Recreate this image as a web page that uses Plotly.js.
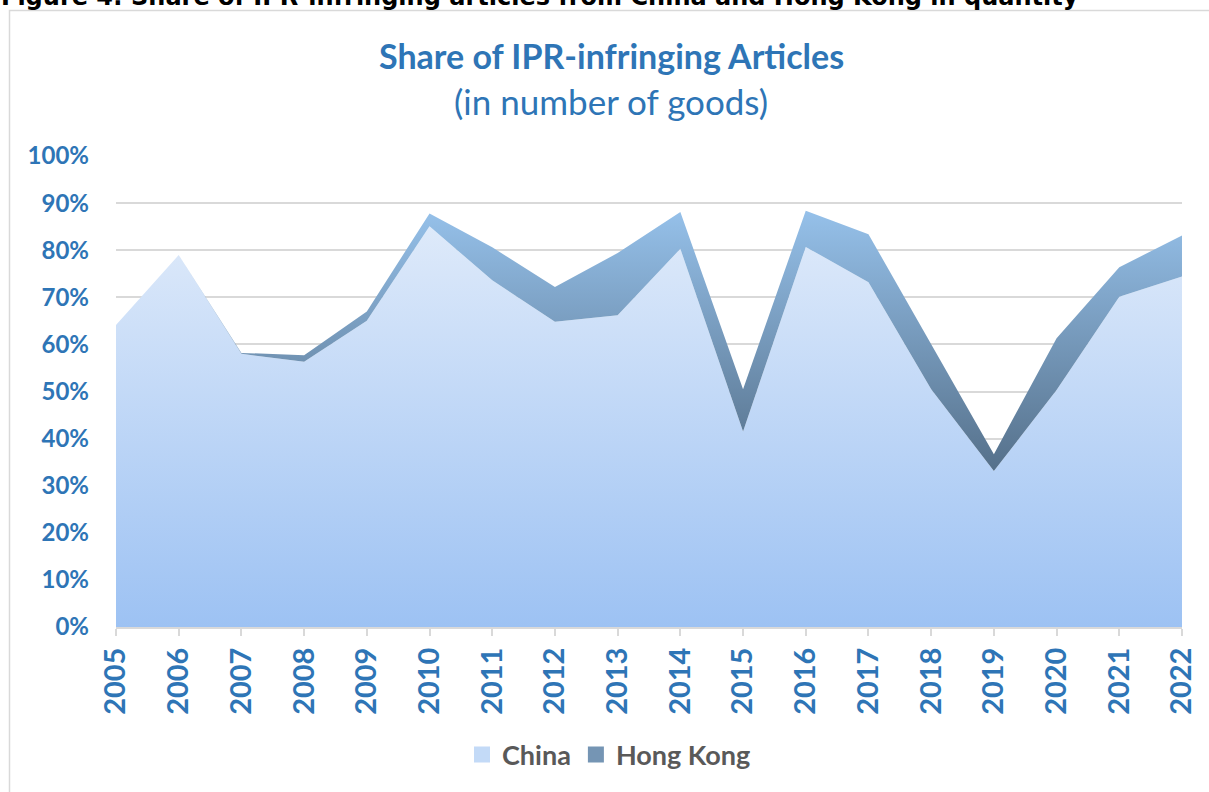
<!DOCTYPE html>
<html>
<head>
<meta charset="utf-8">
<script src="https://cdn.plot.ly/plotly-3.0.1.min.js"></script>
<style>
  html, body { margin: 0; padding: 0; background: #fff; }
  #chart { width: 1209px; height: 792px; }
</style>
</head>
<body>
<div id="chart"></div>
<script>
// share of IPR-infringing articles (number of goods), in %
const years = [2005, 2006, 2007, 2008, 2009, 2010, 2011, 2012, 2013,
               2014, 2015, 2016, 2017, 2018, 2019, 2020, 2021, 2022];
const china = [64.1, 79.0, 58.0, 56.3, 65.0, 85.1, 73.6, 64.8, 66.2,
               80.3, 41.5, 80.7, 73.2, 50.5, 33.1, 50.3, 70.1, 74.4];
const hongKong = [0, 0, 0.2, 1.4, 2.0, 2.7, 7.0, 7.4, 13.2,
                  7.8, 9.0, 7.7, 10.2, 9.5, 3.6, 11.0, 6.3, 8.7];
const yTicks = [0, 10, 20, 30, 40, 50, 60, 70, 80, 90, 100];
const yTickText = yTicks.map(v => v + "%");

const BLUE = "#2e75b6";
const GRID = "#d9d9d9";

// plot area in px, used to put the free text where it sits in the original
const PL = 116, PR = 1182, PT = 156, PB = 627;
const px = x => (x - PL) / (PR - PL);
const py = y => (PB - y) / (PB - PT);

const traces = [
    {
        x: years, y: china, name: "China",
        type: "scatter", mode: "lines", stackgroup: "one",
        line: { width: 0 },
        fillgradient: {
            type: "vertical", start: 0, stop: 88,
            colorscale: [[0, "#9dc2f3"], [1, "#e0ebfa"]]
        },
        showlegend: false, hoverinfo: "skip"
    },
    {
        x: years, y: hongKong, name: "Hong Kong",
        type: "scatter", mode: "lines", stackgroup: "one",
        line: { width: 0 },
        fillgradient: {
            type: "vertical", start: 33, stop: 88,
            colorscale: [[0, "#55708a"], [1, "#95c0e9"]]
        },
        showlegend: false, hoverinfo: "skip"
    },
    // legend swatches only
    {
        x: [null], y: [null], name: "China", type: "scatter", mode: "markers",
        marker: { symbol: "square", size: 16, color: "#c3daf7" }
    },
    {
        x: [null], y: [null], name: "Hong Kong", type: "scatter", mode: "markers",
        marker: { symbol: "square", size: 16, color: "#7595b4" }
    }
];

const layout = {
    width: 1209, height: 792,
    margin: { l: PL, r: 1209 - PR, t: PT, b: 792 - PB },
    paper_bgcolor: "#fff", plot_bgcolor: "#fff",
    font: { family: "Lato, 'Open Sans', sans-serif", color: BLUE },
    showlegend: true,
    legend: {
        orientation: "h", traceorder: "normal",
        x: px(462), y: py(755),
        xanchor: "left", yanchor: "middle",
        font: { family: "Lato, sans-serif", size: 27, color: "#595959", weight: "bold" },
        itemwidth: 30, tracegroupgap: 0
    },
    xaxis: {
        type: "linear", range: [2005, 2022],
        tickvals: years, tickangle: -90,
        tickfont: { size: 29, color: BLUE, weight: "bold" },
        showgrid: false, zeroline: false,
        showline: true, linecolor: GRID, linewidth: 2,
        ticks: "outside", ticklen: 7, tickwidth: 2, tickcolor: GRID
    },
    yaxis: {
        range: [0, 100], tickvals: yTicks, ticktext: yTickText,
        tickfont: { size: 24, color: BLUE, weight: "bold" },
        showgrid: true, gridcolor: GRID, gridwidth: 2,
        zeroline: false, showline: false, ticks: "",
        ticklabelstandoff: 26
    },
    shapes: [
        {   // chart frame
            type: "rect", xref: "paper", yref: "paper",
            x0: px(9.5), x1: px(1230), y0: py(10.5), y1: py(810),
            line: { color: GRID, width: 1.5 }, fillcolor: "rgba(0,0,0,0)",
            layer: "below"
        }
    ],
    annotations: [
        {
            text: "Figure 4: Share of IPR-infringing articles from China and Hong Kong in quantity",
            xref: "paper", yref: "paper", x: px(-1), y: py(13),
            xanchor: "left", yanchor: "bottom", showarrow: false,
            font: { family: "'DejaVu Sans', sans-serif", size: 24, color: "#000", weight: "bold" }
        },
        {
            text: "<b>Share of IPR-infringing Articles</b>",
            xref: "paper", yref: "paper", x: px(611), y: py(55),
            xanchor: "center", yanchor: "middle", showarrow: false,
            font: { family: "Lato, sans-serif", size: 34, color: BLUE }
        },
        {
            text: "(in number of goods)",
            xref: "paper", yref: "paper", x: px(611), y: py(101),
            xanchor: "center", yanchor: "middle", showarrow: false,
            font: { family: "Lato, sans-serif", size: 35, color: BLUE }
        }
    ]
};

Plotly.newPlot("chart", traces, layout, { displayModeBar: false, staticPlot: true });
</script>
</body>
</html>
